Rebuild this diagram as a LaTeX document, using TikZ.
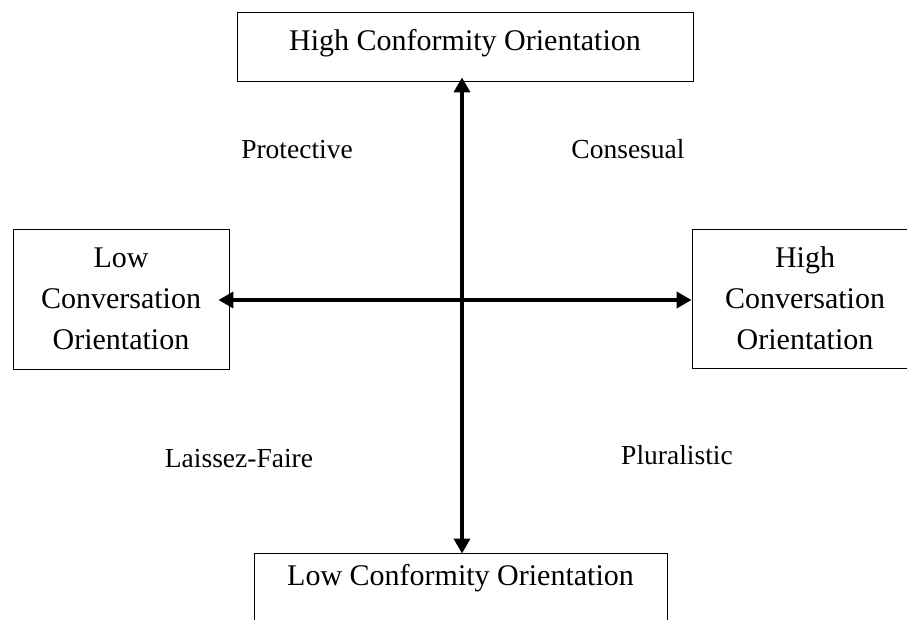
\documentclass[tikz,border=0pt]{standalone}
\usepackage{fontspec}
\setmainfont{Liberation Serif}
\usetikzlibrary{arrows.meta}
\begin{document}
\begin{tikzpicture}[x=1pt,y=-1pt,
  boxtext/.style={font=\fontsize{30}{41}\selectfont},
  quad/.style={font=\fontsize{27.5}{33}\selectfont, anchor=base, inner sep=0pt},
  box/.style={draw, line width=0.9pt, boxtext, align=center, inner sep=0pt},
  arr/.style={line width=4.8pt, {Triangle[length=15pt,width=16pt]}-{Triangle[length=15pt,width=16pt]}}
]
\useasboundingbox (0,0) rectangle (907,619);
\fill[white] (0,0) rectangle (907,619);

\node[box, minimum width=456pt, minimum height=69pt, text height=27pt, text depth=20pt] (top) at (465,46.5) {High Conformity Orientation};
\node[box, minimum width=413pt, minimum height=69pt, text height=20pt, text depth=25pt] (bot) at (460.5,587.5) {Low Conformity Orientation};
\node[box, minimum width=216pt, minimum height=140pt] (L) at (121,299) {Low\\Conversation\\Orientation};
\node[box, minimum width=226pt, minimum height=139pt] (R) at (805,298.5) {High\\Conversation\\Orientation};

\coordinate (c) at (462,300);
\draw[arr, shorten <=-4pt, shorten >=-1pt] (c |- top.south) -- (c |- bot.north);
\draw[arr, shorten <=-11pt] (c -| L.east) -- (c -| R.west);

\node[quad] (prot) at (297,158) {Protective};
\node[quad] (cons) at (628,158) {Consesual};
\node[quad] (laf) at (239,467) {Laissez-Faire};
\node[quad] (plu) at (677,464) {Pluralistic};
\end{tikzpicture}
\end{document}
